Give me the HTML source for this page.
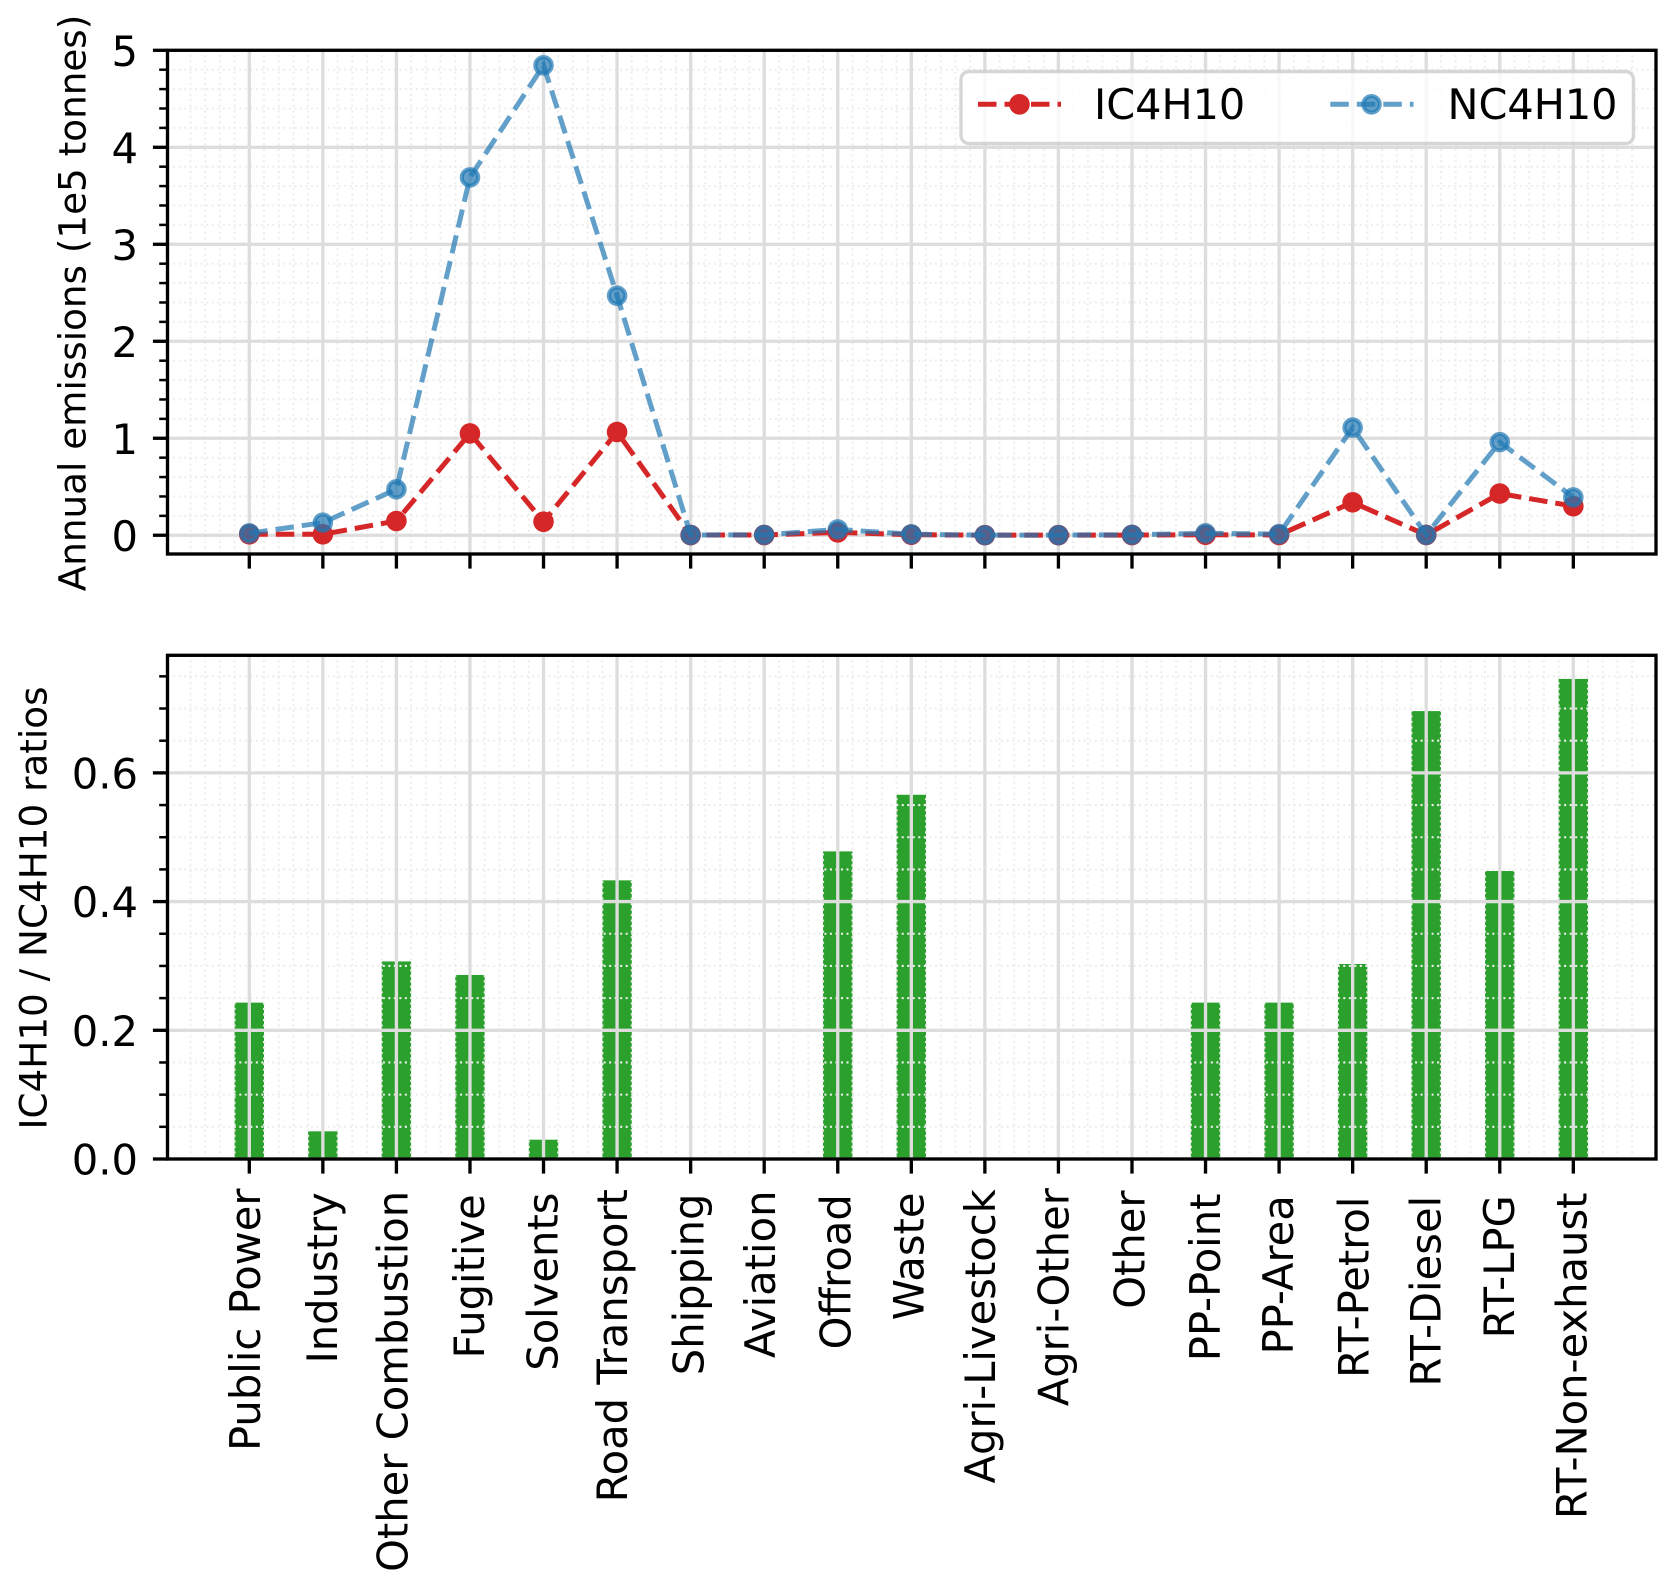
<!DOCTYPE html>
<html lang="en">
<head>
<meta charset="utf-8">
<title>IC4H10 and NC4H10 emissions by sector</title>
<style>
html,body{margin:0;padding:0;background:#fff;}
svg{display:block;}
text{font-family:"DejaVu Sans","Liberation Sans",sans-serif;fill:#000;}
</style>
</head>
<body>
<svg id="fig" xmlns="http://www.w3.org/2000/svg" width="1676" height="1587" viewBox="0 0 1676 1587">
  <rect x="0" y="0" width="1676" height="1587" fill="#fff"/>
  <g id="top-panel"></g>
  <g id="bottom-panel"></g>
  <text x="85.5" y="303" font-size="37.3" text-anchor="middle" transform="rotate(-90 85.5 303)">Annual emissions (1e5 tonnes)</text>
  <text x="46.5" y="908" font-size="37.3" text-anchor="middle" transform="rotate(-90 46.5 908)">IC4H10 / NC4H10 ratios</text>
  <g id="legend">
    <rect x="961" y="71.5" width="672.5" height="72" rx="8" ry="8" fill="#fff" fill-opacity="0.8" stroke="#ccc" stroke-opacity="0.8" stroke-width="3.4"/>
    <g>
      <line x1="978" y1="104.3" x2="1061" y2="104.3" stroke="#d62728" stroke-width="5" stroke-dasharray="18.5 8"/>
      <circle cx="1019.5" cy="104.3" r="10.3" fill="#d62728"/>
      <text x="1094" y="119" font-size="41.4">IC4H10</text>
    </g>
    <g>
      <line x1="1330.3" y1="104.3" x2="1413.5" y2="104.3" stroke="#1f77b4" stroke-opacity="0.7" stroke-width="5" stroke-dasharray="18.5 8"/>
      <circle cx="1371.5" cy="104.3" r="8.2" fill="#1f77b4" fill-opacity="0.7" stroke="#1f77b4" stroke-opacity="0.7" stroke-width="4.17"/>
      <text x="1447.5" y="119" font-size="41.4">NC4H10</text>
    </g>
  </g>
</svg>
<script>
// ---- chart data ----
const categories = ["Public Power","Industry","Other Combustion","Fugitive","Solvents","Road Transport","Shipping","Aviation","Offroad","Waste","Agri-Livestock","Agri-Other","Other","PP-Point","PP-Area","RT-Petrol","RT-Diesel","RT-LPG","RT-Non-exhaust"];
const ic4h10Values = [0.01,0.01,0.147,1.05,0.14,1.065,0.002,0.002,0.03,0.005,0.001,0.001,0.002,0.005,0.003,0.34,0.003,0.43,0.30];
const nc4h10Values = [0.02,0.13,0.474,3.69,4.845,2.47,0.003,0.004,0.06,0.01,0.001,0.002,0.005,0.02,0.012,1.11,0.004,0.96,0.39];
const ratioValues = [0.243,0.043,0.307,0.286,0.03,0.433,0,0,0.478,0.566,0,0,0,0.243,0.243,0.303,0.696,0.4475,0.746];
const topYTicks = [0,1,2,3,4,5];
const bottomYTicks = [0,0.2,0.4,0.6];
const bottomYTickLabels = ["0.0","0.2","0.4","0.6"];

// ---- layout ----
const NS = "http://www.w3.org/2000/svg";
const plotLeft = 167.5, plotRight = 1656;
const xMin = -1.112, xMax = 19.124;
const topAxes = {t:50.3, b:554, yMin:-0.1933, yMax:5};
const botAxes = {t:655.3, b:1159, yMin:0, yMax:0.7827};
// hand-measured rendering nudges for rotated tick labels (not data)
const labelBaselineNudge = [10.7,14,11,14,14,10,13,10.7,12.7,12,10.3,10,12.7,14.7,14,16,14.3,14,13.3];
const labelEndNudge = [123,134,130,140,135,125,138,129,140,135,125,122,129,138,143,147,145,143,135];

function xScale(v){ return plotLeft + (v - xMin) * (plotRight - plotLeft) / (xMax - xMin); }
function yScale(p, v){ return p.b - (v - p.yMin) * (p.b - p.t) / (p.yMax - p.yMin); }

function make(tag, attrs, parent){
  const el = document.createElementNS(NS, tag);
  for (const k in attrs) el.setAttribute(k, attrs[k]);
  parent.appendChild(el);
  return el;
}

function drawGrid(g, p, yMinorStep){
  const grp = make("g", {}, g);
  
  
  // minor vertical
  for (let k = Math.ceil(xMin / 0.2); k * 0.2 <= xMax; k++){
    if (k % 5 === 0) continue;
    const x = xScale(k * 0.2);
    const l = make("line", {x1:x, x2:x, y1:p.b, y2:p.t, stroke:"#eeeeee", "stroke-width":2.08, "stroke-dasharray":"2.08 3.44"}, grp);
    
    
  }
  // minor horizontal
  const nSteps = Math.round((p.yMax - p.yMin) / yMinorStep) + 2;
  const start = Math.ceil(p.yMin / yMinorStep);
  for (let k = start; k < start + nSteps; k++){
    const v = k * yMinorStep;
    if (v > p.yMax) break;
    const isMajor = yMinorStep === 0.2 ? (k % 5 === 0) : (k % 4 === 0);
    if (isMajor) continue;
    const y = yScale(p, v);
    const l = make("line", {x1:plotLeft, x2:plotRight, y1:y, y2:y, stroke:"#eeeeee", "stroke-width":2.08, "stroke-dasharray":"2.08 3.44"}, grp);
    
    
  }
  // major vertical
  categories.forEach((c, i) => {
    const x = xScale(i);
    const l = make("line", {x1:x, x2:x, y1:p.t, y2:p.b, stroke:"#dddddd", "stroke-width":3.33}, grp);
    
    
  });
}

function drawMajorY(g, p, ticks){
  ticks.forEach(v => {
    const y = yScale(p, v);
    const l = make("line", {x1:plotLeft, x2:plotRight, y1:y, y2:y, stroke:"#dddddd", "stroke-width":3.33}, g);
    
    
  });
}

function drawAxes(g, p, majors, labels, minorStep){
  // minor y ticks
  for (let k = Math.ceil(p.yMin / minorStep); k * minorStep <= p.yMax + 1e-6; k++){
    const y = yScale(p, k * minorStep);
    const l = make("line", {x1:plotLeft - 8.3, x2:plotLeft, y1:y, y2:y, stroke:"#000", "stroke-width":2.5}, g);
    
    
  }
  majors.forEach((v, i) => {
    const y = yScale(p, v);
    const l = make("line", {x1:plotLeft - 14.6, x2:plotLeft, y1:y, y2:y, stroke:"#000", "stroke-width":3.33}, g);
    
    
    const t = make("text", {x:138, y:y + 15.5, "font-size":41.67, "text-anchor":"end"}, g);
    
    
    t.textContent = labels[i];
  });
  categories.forEach((c, i) => {
    const x = xScale(i);
    const l = make("line", {x1:x, x2:x, y1:p.b, y2:p.b + 14.6, stroke:"#000", "stroke-width":3.33}, g);
    
    
  });
  const frame = make("rect", {x:plotLeft, y:p.t, width:plotRight - plotLeft, height:p.b - p.t, fill:"none", stroke:"#000", "stroke-width":3.33}, g);
  
  
}

function drawSeries(g, values, name, color, opacity, markerBlue){
  const pts = values.map((v, i) => xScale(i).toFixed(2) + "," + yScale(topAxes, v).toFixed(2)).join(" ");
  const line = make("polyline", {points:pts, fill:"none", stroke:color, "stroke-opacity":opacity, "stroke-width":5, "stroke-dasharray":"18.5 8"}, g);
  
  
  values.forEach((v, i) => {
    const attrs = markerBlue
      ? {cx:xScale(i), cy:yScale(topAxes, v), r:8.2, fill:color, "fill-opacity":opacity, stroke:color, "stroke-opacity":opacity, "stroke-width":4.17}
      : {cx:xScale(i), cy:yScale(topAxes, v), r:10.3, fill:color};
    const m = make("circle", attrs, g);
    
    
  });
}

// ---- top panel ----
const gTop = document.getElementById("top-panel");
drawGrid(gTop, topAxes, 0.2);
drawMajorY(gTop, topAxes, topYTicks);
drawSeries(gTop, ic4h10Values, "ic4h10", "#d62728", 1, false);
drawSeries(gTop, nc4h10Values, "nc4h10", "#1f77b4", 0.7, true);
drawAxes(gTop, topAxes, topYTicks, topYTicks.map(String), 0.2);

// ---- bottom panel ----
const gBot = document.getElementById("bottom-panel");
const barWidth = 0.4;
ratioValues.forEach((v, i) => {
  if (v <= 0) return;
  const bar = make("rect", {x:xScale(i - barWidth / 2), y:yScale(botAxes, v), width:xScale(barWidth) - xScale(0), height:yScale(botAxes, 0) - yScale(botAxes, v), fill:"#2ca02c"}, gBot);
  
  
});
drawGrid(gBot, botAxes, 0.05);
drawMajorY(gBot, botAxes, bottomYTicks);
drawAxes(gBot, botAxes, bottomYTicks, bottomYTickLabels, 0.05);

categories.forEach((c, i) => {
  const x = xScale(i) + labelBaselineNudge[i];
  const y = 1150 + labelEndNudge[i] / 3 - 2.5;
  const t = make("text", {x:x, y:y, "font-size":41.67, "text-anchor":"end", transform:"rotate(-90 " + x + " " + y + ")"}, gBot);
  
  
  t.textContent = c;
});
</script>
</body>
</html>
